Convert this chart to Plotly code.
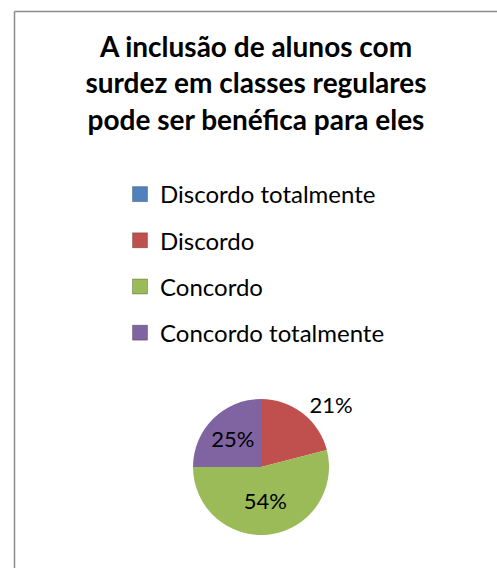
import plotly.graph_objects as go

# Survey answers and their shares (%)
categories = ["Discordo totalmente", "Discordo", "Concordo", "Concordo totalmente"]
shares = [0, 21, 54, 25]
colors = ["#4F81BD", "#C0504D", "#9BBB59", "#8064A2"]
label_positions = ["none", "outside", "inside", "inside"]

title_text = ("A inclusão de alunos com<br>surdez em classes regulares"
              "<br>pode ser benéfica para eles")

W, H = 497, 568
FONT = "Lato, 'Open Sans', sans-serif"

fig = go.Figure()

# pie (start at 12 o'clock, clockwise)
fig.add_trace(go.Pie(
    labels=categories,
    values=shares,
    text=[f"{v}%" if v else "" for v in shares],
    textinfo="text",
    textposition=label_positions,
    insidetextorientation="horizontal",
    textfont=dict(family=FONT, size=22, color="#000000"),
    marker=dict(colors=colors, line=dict(width=0)),
    sort=False,
    direction="clockwise",
    rotation=0,
    showlegend=False,
    hoverinfo="label+percent",
    domain=dict(x=[(261 - 68) / W, (261 + 68) / W],
                y=[(H - 467 - 68) / H, (H - 467 + 68) / H]),
))

# legend entries as square markers, one group each for row spacing
for name, col in zip(categories, colors):
    fig.add_trace(go.Scatter(
        x=[None], y=[None], mode="markers", name=name,
        legendgroup=name,
        marker=dict(symbol="square", size=15, color=col,
                    line=dict(width=1, color="rgba(0,0,0,0.25)")),
        hoverinfo="skip",
    ))

fig.update_layout(
    width=W, height=H,
    margin=dict(l=0, r=0, t=0, b=0),
    paper_bgcolor="white",
    plot_bgcolor="white",
    xaxis=dict(visible=False),
    yaxis=dict(visible=False),
    title=dict(text=title_text, x=256 / W, xanchor="center",
               y=1 - 57 / H, yanchor="top",
               font=dict(family=FONT, size=28, color="#000000",
                         weight="bold")),
    legend=dict(x=120 / W, xanchor="left", y=1 - 172 / H, yanchor="top",
                font=dict(family=FONT, size=24, color="#000000"),
                tracegroupgap=12, bgcolor="rgba(0,0,0,0)"),
    shapes=[
        dict(type="line", xref="paper", yref="paper",
             x0=14.5 / W, x1=1, y0=1 - 11.5 / H, y1=1 - 11.5 / H,
             line=dict(color="#8C8C8C", width=1.5)),
        dict(type="line", xref="paper", yref="paper",
             x0=14.5 / W, x1=14.5 / W, y0=0, y1=1 - 11.5 / H,
             line=dict(color="#8C8C8C", width=1.5)),
    ],
)

fig.write_html("out.html")
